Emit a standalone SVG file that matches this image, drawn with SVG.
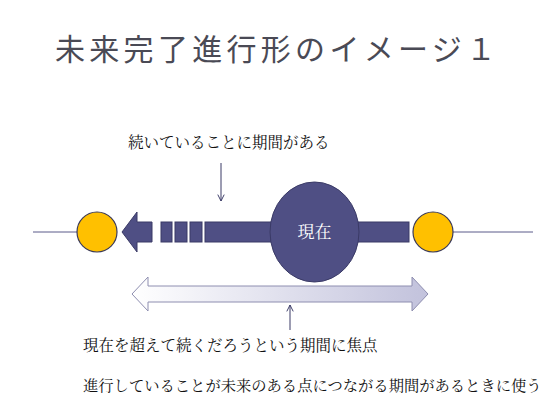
<svg xmlns="http://www.w3.org/2000/svg" width="560" height="400" viewBox="0 0 560 400">
<style>
.title{font-family:"Liberation Sans","Noto Sans CJK JP",sans-serif;font-size:30px;fill:#4a4a55;letter-spacing:4.3px}
.lbl{font-family:"Noto Serif CJK JP","Noto Sans CJK JP",serif;font-size:15.5px;fill:#111}
.lbl2{font-family:"Noto Serif CJK JP","Noto Sans CJK JP",serif;font-size:15.3px;fill:#111}
.now{font-family:"Noto Serif CJK JP","Noto Sans CJK JP",serif;font-size:17px;fill:#fff}
.bar{fill:#4f4f84;stroke:#3a3a66;stroke-width:1}
.dot{fill:#ffc000;stroke:#3a3a5a;stroke-width:1.2}
.thin{stroke:#5a5a8a;stroke-width:1;fill:none}
</style>
<defs>
<marker id="v" viewBox="0 0 10 10" refX="9" refY="5" markerWidth="8" markerHeight="8" orient="auto" markerUnits="userSpaceOnUse">
<polyline points="1,1 9,5 1,9" fill="none" stroke="#3a3a66" stroke-width="1.2"/>
</marker>
<linearGradient id="g" x1="0" x2="1" y1="0" y2="0">
<stop offset="0" stop-color="#ffffff"/>
<stop offset="1" stop-color="#c2c2dc"/>
</linearGradient>
</defs>
<text class="title" x="55" y="60">未来完了進行形のイメージ１</text>
<g id="connectors">
<line class="thin" x1="33" y1="232" x2="77" y2="232"/>
<line class="thin" x1="453" y1="232" x2="533" y2="232"/>
<line x1="221" y1="163" x2="221" y2="201" stroke="#3a3a66" stroke-width="1" marker-end="url(#v)"/>
<line x1="290" y1="330" x2="290" y2="305" stroke="#3a3a66" stroke-width="1" marker-end="url(#v)"/>
</g>
<g id="timeline-past">
<polygon class="bar" points="122,232 137,212 137,222 152,222 152,242 137,242 137,252"/>
<rect class="bar" x="161" y="222" width="11" height="20"/>
<rect class="bar" x="175" y="222" width="12" height="20"/>
<rect class="bar" x="190" y="222" width="12" height="20"/>
<rect class="bar" x="205" y="222" width="72" height="20"/>
</g>
<g id="timeline-future">
<rect class="bar" x="352" y="222" width="57" height="20"/>
</g>
<g id="start-point"><circle class="dot" cx="97" cy="232" r="20"/></g>
<g id="end-point"><circle class="dot" cx="433" cy="232" r="20"/></g>
<g id="now">
<ellipse class="bar" cx="314.5" cy="232" rx="44.5" ry="50"/>
<text class="now" x="314.5" y="238" text-anchor="middle">現在</text>
</g>
<g id="period">
<polygon points="132,294 148,277 148,286 412,286 412,277 428,294 412,311 412,302 148,302 148,311" fill="url(#g)" stroke="#8e8eb0" stroke-width="1"/>
</g>
<g id="labels">
<text class="lbl" x="128" y="148">続いていることに期間がある</text>
<text class="lbl" x="83" y="351">現在を超えて続くだろうという期間に焦点</text>
<text class="lbl2" x="83" y="391">進行していることが未来のある点につながる期間があるときに使う</text>
</g>
</svg>
